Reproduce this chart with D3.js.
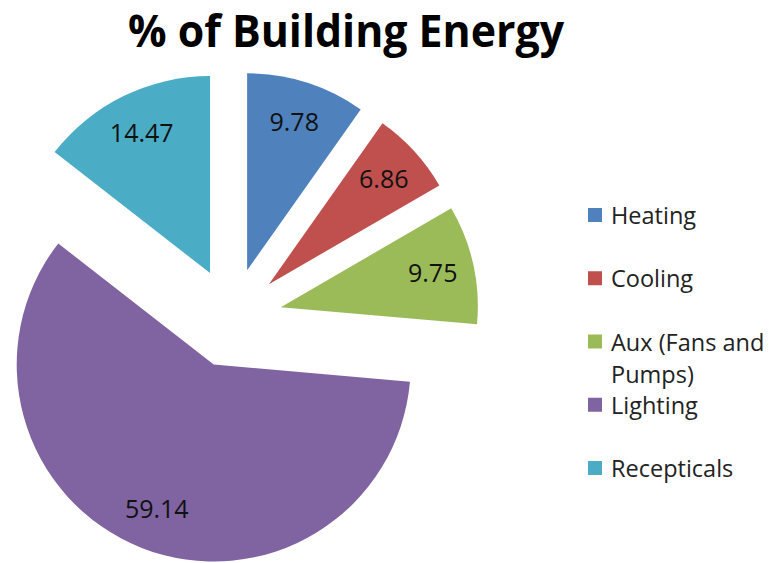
<!DOCTYPE html>
<html>
<head>
<meta charset="utf-8">
<script src="https://cdn.jsdelivr.net/npm/d3@7"></script>
<style>
  body { margin: 0; background: #fff; }
  text { font-family: "Open Sans", "DejaVu Sans", sans-serif; }
</style>
</head>
<body>
<div id="chart"></div>
<script>
const categories = ["Heating", "Cooling", "Aux (Fans and Pumps)", "Lighting", "Recepticals"];
const values = [9.78, 6.86, 9.75, 59.14, 14.47];
const colors = ["#4f81bd", "#c0504d", "#9bbb59", "#8064a2", "#4bacc6"];

const svg = d3.select('#chart')
  .append('svg')
  .attr('width', 775)
  .attr('height', 563);

const cx = 232, cy = 318,
      radius = 197,
      explode = 50;

// Title
svg.append("text")
  .attr("x", 346)
  .attr("y", 47)
  .attr("text-anchor", "middle")
  .attr("textLength", 436)
  .attr("lengthAdjust", "spacingAndGlyphs")
  .style("font-size", "44px")
  .style("font-weight", "bold")
  .style("fill", "#000")
  .text("% of Building Energy");

const data = categories.map((c, i) => ({ name: c, value: values[i], color: colors[i] }));

const pie = d3.pie()
  .sort(null)
  .value(d => d.value);

const arc = d3.arc()
  .innerRadius(0)
  .outerRadius(radius);

const labelArc = d3.arc()
  .innerRadius(radius * 0.58)
  .outerRadius(radius);

const chart = svg.append("g")
  .attr("transform", `translate(${cx},${cy})`);

const slices = chart.selectAll("g.slice")
  .data(pie(data))
  .join("g")
  .attr("class", "slice")
  .attr("transform", d => {
    const mid = (d.startAngle + d.endAngle) / 2;
    return `translate(${explode * Math.sin(mid)},${-explode * Math.cos(mid)})`;
  });

slices.append("path")
  .attr("d", arc)
  .attr("fill", d => d.data.color);

slices.append("text")
  .attr("transform", d => `translate(${labelArc.centroid(d)})`)
  .attr("text-anchor", "middle")
  .attr("dy", "0.35em")
  .style("font-size", "25px")
  .style("fill", "#111")
  .text(d => d.data.value.toFixed(2));

// Legend
const legend = svg.append("g")
  .attr("transform", "translate(588, 224)");

data.forEach((d, i) => {
  const g = legend.append("g").attr("transform", `translate(0, ${i * 63.25})`);
  g.append("rect")
    .attr("y", -16)
    .attr("width", 14)
    .attr("height", 14)
    .attr("fill", d.color);
  const t = g.append("text")
    .attr("x", 23)
    .style("font-size", "23.5px")
    .style("fill", "#222");
  // wrap long names
  const words = d.name.split(" ");
  let line = [];
  let tspan = t.append("tspan").attr("x", 23).attr("y", 0);
  words.forEach(w => {
    line.push(w);
    tspan.text(line.join(" "));
    if (tspan.node().getComputedTextLength() > 168 && line.length > 1) {
      line.pop();
      tspan.text(line.join(" "));
      line = [w];
      tspan = t.append("tspan").attr("x", 23).attr("dy", 32).text(w);
    }
  });
});
</script>
</body>
</html>
